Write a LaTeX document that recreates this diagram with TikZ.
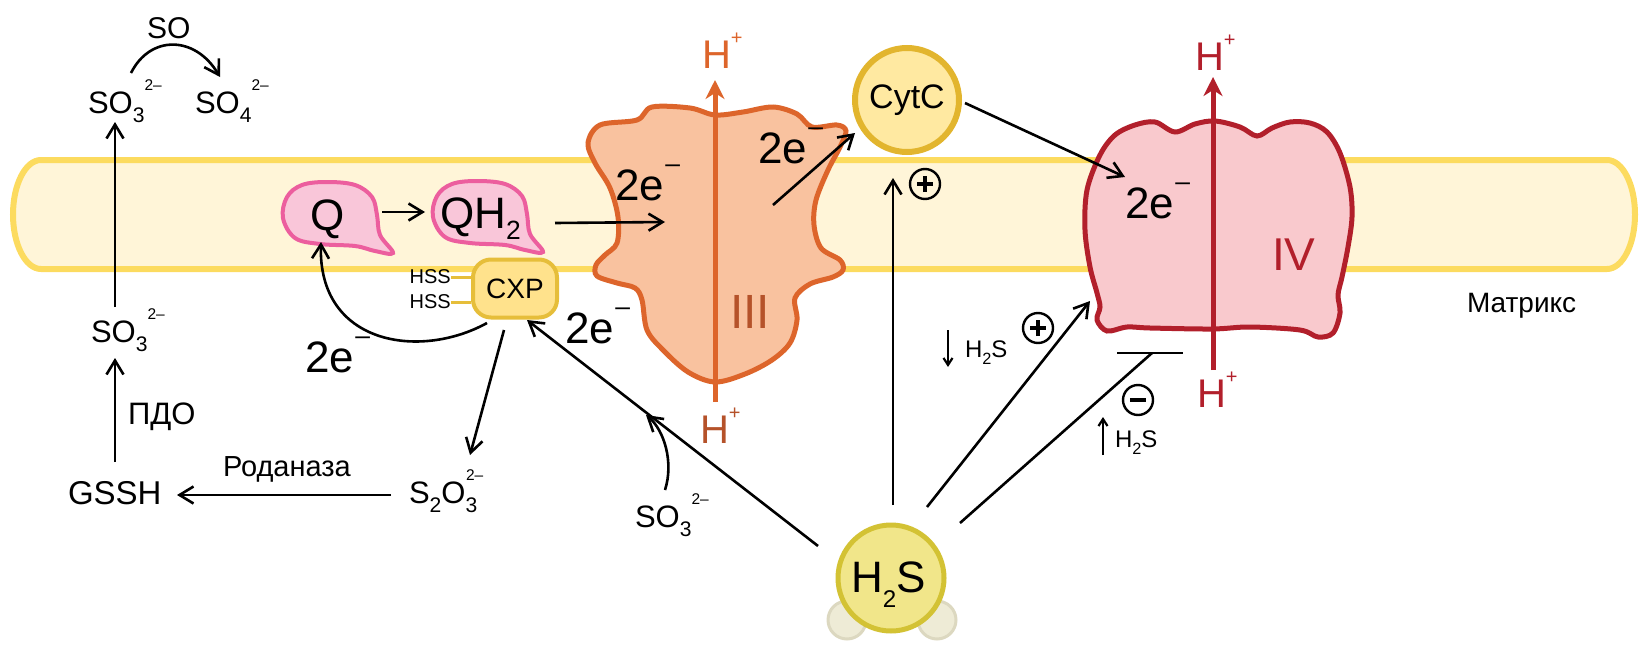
\documentclass[tikz,border=0pt]{standalone}
\usepackage{fontspec}
\setmainfont{Liberation Sans}
\usetikzlibrary{arrows.meta}
\definecolor{membline}{HTML}{FCDB5F}
\definecolor{membfill}{HTML}{FFF5D8}
\definecolor{qfill}{HTML}{F9C6D9}
\definecolor{qline}{HTML}{EC5E9E}
\definecolor{cxpfill}{HTML}{FFE28C}
\definecolor{cxpline}{HTML}{E6BE3A}
\definecolor{cthreefill}{HTML}{F9C29F}
\definecolor{cthreeline}{HTML}{DD652B}
\definecolor{cthreetext}{HTML}{B5522A}
\definecolor{cytfill}{HTML}{FFE9A1}
\definecolor{cytline}{HTML}{E2B52E}
\definecolor{cfourfill}{HTML}{F9C9CD}
\definecolor{cfourline}{HTML}{B21F2B}
\definecolor{hsfill}{HTML}{F1E68A}
\definecolor{hsline}{HTML}{D3C234}
\definecolor{hballfill}{HTML}{EEEBD6}
\definecolor{hballline}{HTML}{DCD8C0}
\newcommand\dn[1]{\raisebox{-0.3em}{\scalebox{0.68}{#1}}}
\newcommand\up[1]{\raisebox{0.72em}{\scalebox{0.5}{#1}}}
\newcommand\elm{\kern0.03em\raisebox{0.62em}{\scalebox{0.6}{–}}}
\newcommand\hp{\raisebox{0.59em}{\scalebox{0.5}{+}}}
\tikzset{
  lbl/.style={inner sep=0pt, outer sep=0pt, anchor=base west, font=\fontsize{31}{36}\selectfont},
  big/.style={lbl, font=\fontsize{44}{50}\selectfont},
  sml/.style={lbl, font=\fontsize{24}{28}\selectfont},
  hss/.style={inner sep=0pt, anchor=east, font=\fontsize{20}{24}\selectfont},
  memb/.style={draw=membline, fill=membfill, line width=6pt},
  blob/.style={draw=qline, fill=qfill, line width=4pt},
  cxpbox/.style={draw=cxpline, fill=cxpfill, line width=4pt, rounded corners=18pt, minimum width=84pt, minimum height=58pt, inner sep=0pt, font=\fontsize{28}{32}\selectfont},
  arr/.style={line width=2.6pt, -{Straight Barb[length=14pt,width=17pt]}},
  plainline/.style={line width=2.6pt},
  smarr/.style={line width=2.2pt, -{Straight Barb[length=7pt,width=9pt]}},
  threearr/.style={draw=cthreeline, line width=5pt, -{Stealth[length=19pt,width=19pt,inset=6pt]}},
  fourarr/.style={draw=cfourline, line width=5pt, -{Stealth[length=19pt,width=19pt,inset=6pt]}},
  sgn/.style={circle, draw, line width=2.4pt, minimum size=30pt, inner sep=0pt},
  sgnline/.style={line width=4.5pt},
  hssline/.style={draw=cxpline, line width=3pt}
}
\begin{document}
\begin{tikzpicture}[x=1pt,y=-1pt]
\useasboundingbox (0,0) rectangle (1649,645);
% membrane
\draw[memb] (41,160) -- (1607,160) arc[start angle=-90,end angle=90,x radius=28,y radius=54.5] -- (41,269) arc[start angle=90,end angle=270,x radius=28,y radius=54.5] -- cycle;
% Q and QH2 blobs
\begin{scope}[shift={(283,180)}]
\draw[blob] plot[smooth cycle, tension=0.6] coordinates {(44,2) (72,5) (89,17) (94,35) (97,55) (110,73) (92,71) (72,66) (37,64) (12,58) (0,38) (4,17) (19,5)};
\end{scope}
\begin{scope}[shift={(433,179)}]
\draw[blob] plot[smooth cycle, tension=0.6] coordinates {(44,2) (72,5) (89,17) (94,35) (97,55) (110,73) (92,71) (72,66) (37,64) (12,58) (0,38) (4,17) (19,5)};
\end{scope}
% complex III
\draw[draw=cthreeline, fill=cthreefill, line width=5pt] plot[smooth cycle, tension=0.55] coordinates {(588,143) (600,125) (637,120) (652,107) (690,108) (715,115) (743,112) (773,107) (797,114) (812,127) (837,125) (846,131) (840,147) (828,170) (816,200) (814,225) (821,248) (840,260) (843,270) (833,277) (810,284) (795,298) (797,320) (790,343) (772,360) (745,374) (715,382) (688,372) (663,350) (647,330) (642,300) (635,288) (617,283) (597,276) (596,265) (605,255) (617,243) (618,217) (610,188) (595,163)};
% complex IV
\draw[draw=cfourline, fill=cfourfill, line width=5pt] plot[smooth cycle, tension=0.55] coordinates {(1100,155) (1115,135) (1135,125) (1155,122) (1175,132) (1195,124) (1215,121) (1240,127) (1257,136) (1272,128) (1290,122) (1310,123) (1327,132) (1340,153) (1350,187) (1352,217) (1348,247) (1342,277) (1338,295) (1340,313) (1333,333) (1318,337) (1300,330) (1250,327) (1212,329) (1150,328) (1127,327) (1107,331) (1097,320) (1100,307) (1097,293) (1090,267) (1085,230) (1087,190)};
% CytC
\node[circle, draw=cytline, fill=cytfill, line width=6pt, minimum size=104pt, inner sep=0pt, font=\fontsize{34}{38}\selectfont] (cytc) at (907,100) {CytC};
% H2S molecule
\node[circle, draw=hballline, fill=hballfill, line width=3pt, minimum size=38pt] (hb1) at (847,620) {};
\node[circle, draw=hballline, fill=hballfill, line width=3pt, minimum size=38pt] (hb2) at (937,620) {};
\node[circle, draw=hsline, fill=hsfill, line width=5pt, minimum size=106pt] (h2s) at (891,578) {};
\node[big] (h2stxt) at (851,592) {H\raisebox{-0.35em}{\scalebox{0.55}{2}}S};
% CXP
\node[cxpbox] (cxp) at (515,288.5) {CXP};
\node[hss] (hss1) at (451,277) {HSS};
\node[hss] (hss2) at (451,302) {HSS};
\draw[hssline] (hss1.east) -- (hss1.east -| cxp.west);
\draw[hssline] (hss2.east) -- (hss2.east -| cxp.west);
% proton arrows
\coordinate (t3b) at (715,402); \coordinate (t3t) at (715,80);
\draw[threearr] (t3b) -- (t3t);
\coordinate (t4b) at (1213,370); \coordinate (t4t) at (1213,77);
\draw[fourarr] (t4b) -- (t4t);
% labels
\node[lbl, font=\fontsize{30}{36}\selectfont] (so) at (147,38) {SO};
\node[lbl] (so3a) at (88,113) {SO\dn{3}\up{2–}};
\node[lbl] (so4) at (195,113) {SO\dn{4}\up{2–}};
\node[lbl] (so3b) at (91,342) {SO\dn{3}\up{2–}};
\node[lbl] (pdo) at (128,424) {ПДО};
\node[lbl, font=\fontsize{33}{38}\selectfont] (gssh) at (68,504) {GSSH};
\node[lbl, font=\fontsize{29}{34}\selectfont] (rod) at (223,476) {Роданаза};
\node[lbl] (s2o3) at (409,503) {S\dn{2}O\dn{3}\kern-0.36em\up{2–}};
\node[lbl] (so3c) at (635,527) {SO\dn{3}\up{2–}};
\node[big] (q) at (310,230) {Q};
\node[big] (qh2) at (440,228) {QH\raisebox{-0.27em}{\scalebox{0.6}{2}}};
\node[big] (e1) at (305,372) {2e\elm};
\node[big] (e2) at (565,343) {2e\elm};
\node[big] (e3) at (615,200) {2e\elm};
\node[big] (e4) at (758,163) {2e\elm};
\node[big] (e5) at (1125,218) {2e\elm};
\node[lbl, font=\fontsize{40}{44}\selectfont, text=cthreeline] (hp1) at (702,68) {H\hp};
\node[lbl, font=\fontsize{40}{44}\selectfont, text=cthreetext] (hp2) at (700,443) {H\hp};
\node[lbl, font=\fontsize{48}{52}\selectfont, text=cthreetext] (c3lbl) at (730,328) {III};
\node[lbl, font=\fontsize{40}{44}\selectfont, text=cfourline] (hp3) at (1195,70) {H\hp};
\node[lbl, font=\fontsize{40}{44}\selectfont, text=cfourline] (hp4) at (1197,407) {H\hp};
\node[lbl, font=\fontsize{46}{50}\selectfont, text=cfourline] (c4lbl) at (1272,270) {IV};
\node[lbl, font=\fontsize{28}{32}\selectfont] (matr) at (1467,312) {Матрикс};
\node[sml] (h2sdn) at (965,357) {H\dn{2}S};
\node[sml] (h2sup) at (1115,447) {H\dn{2}S};
% signs
\node[sgn] (pl1) at (925,184) {};
\draw[sgnline] ([xshift=-8pt]pl1.center) -- ([xshift=8pt]pl1.center) ([yshift=-8pt]pl1.center) -- ([yshift=8pt]pl1.center);
\node[sgn] (pl2) at (1038,328) {};
\draw[sgnline] ([xshift=-8pt]pl2.center) -- ([xshift=8pt]pl2.center) ([yshift=-8pt]pl2.center) -- ([yshift=8pt]pl2.center);
\node[sgn] (mi1) at (1138,400) {};
\draw[sgnline] ([xshift=-8pt]mi1.center) -- ([xshift=8pt]mi1.center);
% connector end points
\coordinate (a1s) at (131,73); \coordinate (a1e) at (220,77);
\coordinate (a2s) at (115,307); \coordinate (a2e) at (115,122);
\coordinate (a3s) at (115,462); \coordinate (a3e) at (115,358);
\coordinate (a4s) at (391,495); \coordinate (a4e) at (177,495);
\coordinate (a5s) at (504,330); \coordinate (a5e) at (470,455);
\coordinate (a6s) at (487,323); \coordinate (a6e) at (321,242);
\coordinate (a7s) at (382,212); \coordinate (a7e) at (425,212);
\coordinate (a8s) at (555,223); \coordinate (a8e) at (665,222);
\coordinate (a9s) at (773,205); \coordinate (a9e) at (855,133);
\coordinate (a10s) at (965,103); \coordinate (a10e) at (1125,177);
\coordinate (a11s) at (818,546); \coordinate (a11e) at (527,320);
\coordinate (a12s) at (665,490); \coordinate (a12e) at (646,415);
\coordinate (a13s) at (893,505); \coordinate (a13e) at (893,178);
\coordinate (a14s) at (927,507); \coordinate (a14e) at (1090,301);
\coordinate (a15s) at (960,523); \coordinate (a15e) at (1152,353);
\coordinate (barl) at (1117,353); \coordinate (barr) at (1183,353);
\coordinate (d1s) at (948,330); \coordinate (d1e) at (948,367);
\coordinate (u1s) at (1103,455); \coordinate (u1e) at (1103,417);
% connectors
\draw[arr] (a1s) .. controls (150,35) and (195,35) .. (a1e);
\draw[arr] (a2s) -- (a2e);
\draw[arr] (a3s) -- (a3e);
\draw[arr] (a4s) -- (a4e);
\draw[arr] (a5s) -- (a5e);
\draw[arr] (a6s) .. controls (420,360) and (318,345) .. (a6e);
\draw[arr] (a7s) -- (a7e);
\draw[arr] (a8s) -- (a8e);
\draw[arr] (a9s) -- (a9e);
\draw[arr] (a10s) -- (a10e);
\draw[arr] (a11s) -- (a11e);
\draw[arr] (a12s) .. controls (674,462) and (664,430) .. (a12e);
\draw[arr] (a13s) -- (a13e);
\draw[arr] (a14s) -- (a14e);
\draw[plainline] (a15s) -- (a15e);
\draw[plainline] (barl) -- (barr);
\draw[smarr] (d1s) -- (d1e);
\draw[smarr] (u1s) -- (u1e);
\end{tikzpicture}
\end{document}
